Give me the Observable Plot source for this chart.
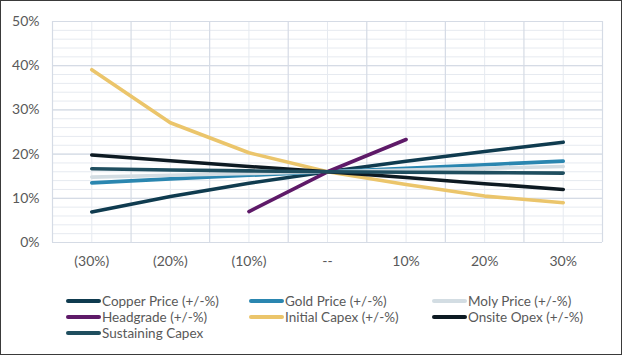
<!DOCTYPE html>
<html>
<head>
<meta charset="utf-8">
<script src="https://cdn.jsdelivr.net/npm/d3@7"></script>
<script src="https://cdn.jsdelivr.net/npm/@observablehq/plot@0.6"></script>
<style>
  html, body { margin: 0; padding: 0; background: #fff; }
  #wrap { position: relative; width: 622px; height: 355px; box-sizing: border-box; border: 1px solid #3a3a3a; background: #fff; overflow: hidden; font-family: Lato, "Open Sans", sans-serif; }
  #chart { position: absolute; left: 0; top: 0; }
  #legend { position: absolute; left: 65px; top: 292px; display: grid; grid-template-columns: 183px 183px 183px; grid-auto-rows: 16px; font-size: 13.5px; color: #595959; }
  .item { display: flex; align-items: center; white-space: nowrap; }
  .sw { display: inline-block; width: 35px; height: 4px; border-radius: 2px; margin-right: 1px; }
</style>
</head>
<body>
<div id="wrap">
  <div id="chart"></div>
  <div id="legend"></div>
</div>
<script>
// Categories (x axis)
const categories = ["(30%)", "(20%)", "(10%)", "--", "10%", "20%", "30%"];
// Y axis ticks
const yTicks = [0, 0.1, 0.2, 0.3, 0.4, 0.5];

// Series names
const seriesNames = ["Copper Price (+/-%)", "Gold Price (+/-%)", "Moly Price (+/-%)", "Headgrade (+/-%)", "Initial Capex (+/-%)", "Onsite Opex (+/-%)", "Sustaining Capex"];
const seriesColors = ["#0f3b4f", "#2a86b0", "#d3dde3", "#5e1a68", "#ebc56b", "#0d1a22", "#1f4e5f"];

// Series values (IRR), null = no point
const copperPrice    = [0.069, 0.104, 0.134, 0.160, 0.184, 0.206, 0.227];
const goldPrice      = [0.135, 0.144, 0.152, 0.160, 0.168, 0.176, 0.184];
const molyPrice      = [0.148, 0.152, 0.156, 0.160, 0.164, 0.168, 0.172];
const headgrade      = [null, null, 0.070, 0.160, 0.233, null, null];
const initialCapex   = [0.391, 0.271, 0.203, 0.160, 0.131, 0.105, 0.090];
const onsiteOpex     = [0.198, 0.185, 0.172, 0.160, 0.147, 0.133, 0.120];
const sustainingCapex= [0.167, 0.164, 0.162, 0.160, 0.159, 0.158, 0.157];

const seriesValues = [copperPrice, goldPrice, molyPrice, headgrade, initialCapex, onsiteOpex, sustainingCapex];

const catIdx = categories.map((c, i) => i);
const boundaries = [...catIdx.map(i => i - 0.5), categories.length - 0.5];
const minorY = d3.range(0, 0.5001, 0.02);

const lineMarks = seriesValues.map((vals, s) => {
  const data = vals.map((v, i) => ({i, v})).filter(d => d.v != null);
  return Plot.line(data, {x: "i", y: "v", stroke: seriesColors[s], strokeWidth: 3.6, strokeLinecap: "round", strokeLinejoin: "round"});
});

const chart = Plot.plot({
  width: 620,
  height: 280,
  marginLeft: 51,
  marginRight: 19,
  marginTop: 20,
  marginBottom: 39,
  style: {fontFamily: "Lato, 'Open Sans', sans-serif", background: "transparent"},
  x: {type: "linear", domain: [-0.5, categories.length - 0.5]},
  y: {domain: [0, 0.5]},
  marks: [
    Plot.ruleY(minorY, {stroke: "#e6eaf0", strokeWidth: 1}),
    Plot.ruleX(catIdx, {stroke: "#e6eaf0", strokeWidth: 1}),
    Plot.ruleY(yTicks, {stroke: "#d5dbe5", strokeWidth: 1.2}),
    Plot.ruleX(boundaries, {stroke: "#d5dbe5", strokeWidth: 1.2}),
    ...lineMarks,
    Plot.axisY({ticks: yTicks, tickFormat: d3.format(".0%"), tickSize: 0, tickPadding: 13, fontSize: 14, color: "#595959", label: null}),
    Plot.axisX({ticks: catIdx, tickFormat: i => categories[i], tickSize: 0, tickPadding: 14, fontSize: 14, color: "#595959", label: null})
  ]
});
document.getElementById("chart").appendChild(chart);

const legend = document.getElementById("legend");
seriesNames.forEach((name, s) => {
  const it = document.createElement("div");
  it.className = "item";
  const sw = document.createElement("span");
  sw.className = "sw";
  sw.style.background = seriesColors[s];
  it.appendChild(sw);
  it.appendChild(document.createTextNode(name));
  legend.appendChild(it);
});
</script>
</body>
</html>
